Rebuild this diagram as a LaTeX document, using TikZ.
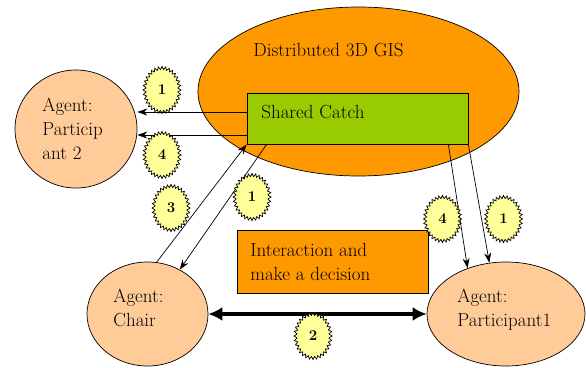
\documentclass[tikz,border=0pt]{standalone}
\usetikzlibrary{shapes.geometric,shapes.symbols,arrows.meta}

\definecolor{gisorange}{RGB}{255,153,0}
\definecolor{cachegreen}{RGB}{153,204,0}
\definecolor{agentpeach}{RGB}{255,204,153}
\definecolor{staryellow}{RGB}{255,255,153}

\tikzset{
  agent/.style={draw, ellipse, fill=agentpeach, inner sep=0pt},
  txt/.style={anchor=base west, align=left, inner sep=0pt,
    font=\fontsize{19}{24}\selectfont},
  msg/.style={-{Stealth[length=10pt,width=7pt]}},
  burst/.style={draw, starburst, random starburst=0, starburst points=32,
    starburst point height=3pt, fill=staryellow, inner sep=0pt,
    minimum width=38pt, minimum height=47pt,
    font=\bfseries\fontsize{15}{15}\selectfont}
}

\begin{document}
\begin{tikzpicture}[x=1pt, y=-1pt, line width=0.7pt]
        \useasboundingbox (0,0) rectangle (586,367);

        % the GIS and its cache
        \node[draw, ellipse, fill=gisorange, minimum width=321pt, minimum height=169pt] (gis) at (358.5,91.5) {};
        \node[txt] (gistext) at (253,56) {Distributed 3D GIS};
        \node[draw, fill=cachegreen, inner sep=0pt, minimum width=221pt, minimum height=51pt] (cache) at (357.5,118.5) {};
        \node[txt] (cachetext) at (261,118) {Shared Catch};

        % agents
        \node[agent, minimum width=122pt, minimum height=118pt] (part2) at (76,129) {};
        \node[txt] (part2text) at (42,159) {Agent:\\Particip\\ant 2};

        \node[agent, minimum width=121pt, minimum height=104pt] (chair) at (147.5,314) {};
        \node[txt] (chairtext) at (113,326) {Agent:\\Chair};

        \node[agent, minimum width=158pt, minimum height=104pt] (part1) at (506,314) {};
        \node[txt] (part1text) at (457,326) {Agent:\\Participant1};

        % decision box
        \node[draw, fill=gisorange, inner sep=0pt, minimum width=191pt, minimum height=63pt] (decide) at (332.5,261.5) {};
        \node[txt] (decidetext) at (250,280) {Interaction and\\make a decision};

        % messages
        \draw[msg] ([yshift=6.5pt]cache.west) -- ([yshift=6.5pt]cache.west -| part2.east);
        \draw[msg] ([yshift=-16.5pt]cache.west) -- ([yshift=-16.5pt]cache.west -| part2.east);
        \draw[msg] (chair.80) -- (cache.south west);
        \draw[msg] ([xshift=20pt]cache.south west) -- (chair.54);
        \draw[msg] ([xshift=-20pt]cache.south east) -- (part1.130);
        \draw[msg] (cache.south east) -- (part1.108);
        \draw[line width=4pt, {Latex[length=14pt,width=14pt]}-{Latex[length=14pt,width=14pt]}] (chair.east) -- (part1.west);

        % steps
        \node[burst] (step1a) at (162,90) {1};
        \node[burst] (step4a) at (162,155) {4};
        \node[burst] (step3) at (171,208) {3};
        \node[burst] (step1b) at (252,197) {1};
        \node[burst] (step4b) at (442.5,219) {4};
        \node[burst] (step1c) at (503.5,219) {1};
        \node[burst] (step2) at (313,336) {2};

    \end{tikzpicture}
\end{document}
